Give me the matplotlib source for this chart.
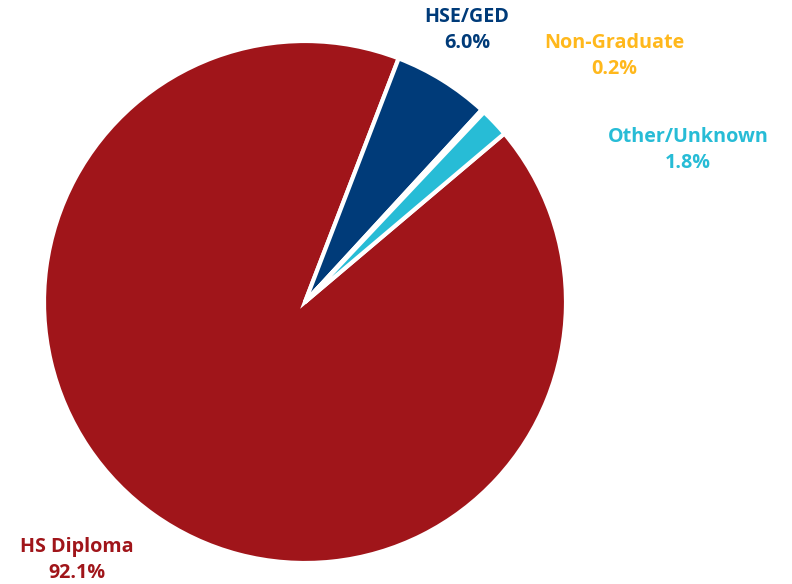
import matplotlib.pyplot as plt

# === Data ===
categories = ["HS Diploma", "HSE/GED", "Non-Graduate", "Other/Unknown"]
shares = [92.1, 6.0, 0.2, 1.8]
colors = ["#A0151A", "#003B79", "#FFB81C", "#27BCD6"]

# label anchor positions (pixel coords, y from top)
label_pos = [(77, 560), (467, 30), (614, 56), (688, 150)]

W, H = 792, 584
fig = plt.figure(figsize=(W / 100, H / 100), dpi=100)
ax = fig.add_axes([0, 0, 1, 1])
ax.set_xlim(0, W)
ax.set_ylim(0, H)
ax.set_aspect("equal")
ax.axis("off")

ax.pie(shares, colors=colors, center=(305, H - 302), radius=261,
       startangle=40.2, counterclock=False,
       wedgeprops=dict(edgecolor="white", linewidth=3))

for name, val, col, (x, y) in zip(categories, shares, colors, label_pos):
    ax.text(x, H - y, f"{name}\n{val:.1f}%", color=col, fontsize=14.2,
            fontweight="bold", family="Open Sans", ha="center", va="center",
            linespacing=1.4)

ax.set_xlim(0, W)
ax.set_ylim(0, H)
fig.savefig("out.png", dpi=100)
